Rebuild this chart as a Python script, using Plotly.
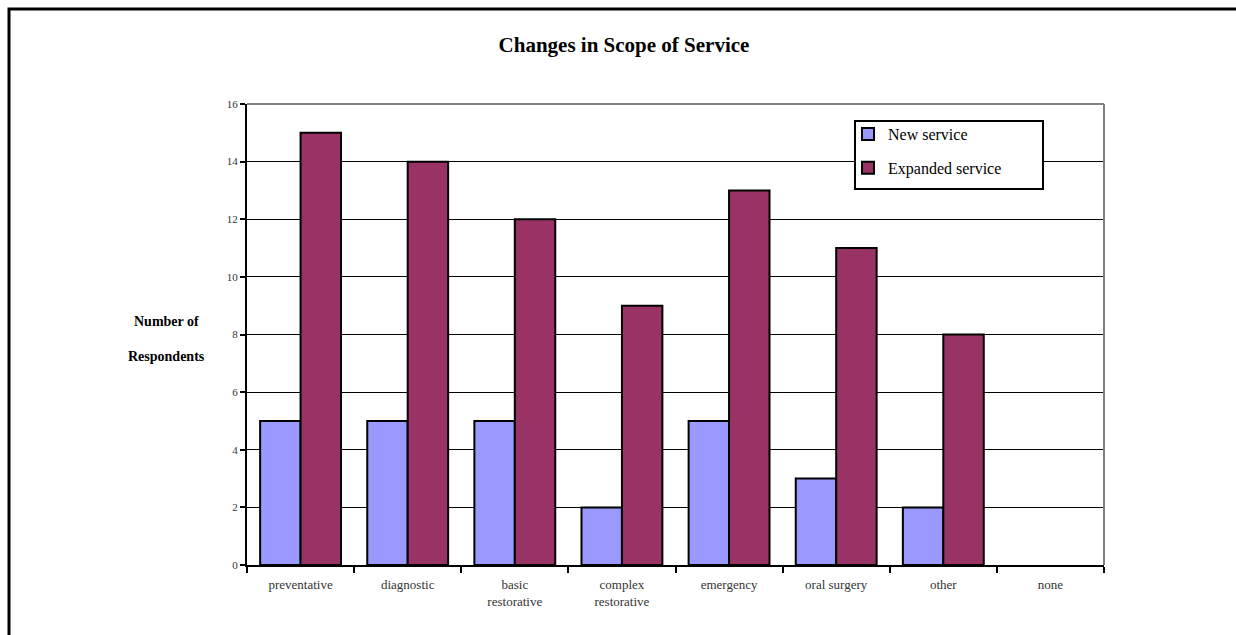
import plotly.graph_objects as go

categories = ["preventative", "diagnostic", "basic<br>restorative", "complex<br>restorative",
              "emergency", "oral surgery", "other", "none"]
new_service = [5, 5, 5, 2, 5, 3, 2, 0]
expanded_service = [15, 14, 12, 9, 13, 11, 8, 0]
y_ticks = [0, 2, 4, 6, 8, 10, 12, 14, 16]

W, H = 1236, 635
L, R, T, B = 247, 1104, 104, 565

FONT = "Liberation Serif, Times New Roman, serif"


def px_x(p):
    return (p - L) / (R - L)


def px_y(p):
    return (B - p) / (B - T)


def outline(values):
    return [2 if v > 0 else 0 for v in values]


fig = go.Figure()
fig.add_trace(go.Bar(x=categories, y=new_service, name="New service",
                     marker=dict(color="#9999FF", line=dict(color="black", width=outline(new_service))),
                     legendgroup="a"))
fig.add_trace(go.Bar(x=categories, y=expanded_service, name="Expanded service",
                     marker=dict(color="#993366", line=dict(color="black", width=outline(expanded_service))),
                     legendgroup="b"))

fig.update_layout(
    width=W, height=H,
    margin=dict(l=L, r=W - R, t=T, b=H - B, pad=0),
    paper_bgcolor="white", plot_bgcolor="white",
    barmode="group", bargap=0.245, bargroupgap=0,
    font=dict(family=FONT, color="#222"),
    title=dict(text="<b>Changes in Scope of Service</b>", x=624 / W, xanchor="center",
               y=1 - 45 / H, yanchor="middle", yref="container",
               font=dict(family=FONT, size=21, color="black")),
    showlegend=True,
    legend=dict(x=px_x(848), y=px_y(117), xanchor="left", yanchor="top",
                bgcolor="rgba(0,0,0,0)", borderwidth=0,
                font=dict(family=FONT, size=16, color="black"),
                tracegroupgap=10, traceorder="grouped", itemwidth=30),
    xaxis=dict(range=[-0.5, 7.5], showline=True, linecolor="black", linewidth=2,
               ticks="outside", tickson="boundaries", ticklen=6, tickwidth=2, tickcolor="black",
               ticklabelstandoff=6,
               tickfont=dict(family=FONT, size=13, color="#333"), showgrid=False),
    yaxis=dict(range=[0, 16], tickvals=y_ticks, showline=True, linecolor="black", linewidth=2,
               ticks="outside", ticklen=5, tickwidth=2, tickcolor="black",
               tickfont=dict(family=FONT, size=11, color="#333"),
               showgrid=True, gridcolor="black", gridwidth=1, zeroline=False),
)

# gray top and right edges of the plot area
fig.add_shape(type="line", xref="paper", yref="paper", x0=0, x1=1, y0=1, y1=1,
              line=dict(color="#808080", width=2), layer="above")
fig.add_shape(type="line", xref="paper", yref="paper", x0=1, x1=1, y0=0, y1=1,
              line=dict(color="#808080", width=2), layer="above")

# legend frame
fig.add_shape(type="rect", xref="paper", yref="paper",
              x0=px_x(855), x1=px_x(1043), y0=px_y(189), y1=px_y(121),
              line=dict(color="black", width=2), fillcolor="white", layer="above")

# outer chart border (extends past right and bottom of view)
fig.add_shape(type="rect", xref="paper", yref="paper",
              x0=px_x(9), x1=px_x(1300), y0=px_y(700), y1=px_y(9),
              line=dict(color="black", width=3), layer="below")

# y-axis title (two horizontal lines)
fig.add_annotation(text="<b>Number of</b>", xref="paper", yref="paper",
                   x=px_x(166), y=px_y(321), showarrow=False,
                   xanchor="center", yanchor="middle",
                   font=dict(family=FONT, size=14, color="black"))
fig.add_annotation(text="<b>Respondents</b>", xref="paper", yref="paper",
                   x=px_x(166), y=px_y(356), showarrow=False,
                   xanchor="center", yanchor="middle",
                   font=dict(family=FONT, size=14, color="black"))

fig.write_html("out.html")
